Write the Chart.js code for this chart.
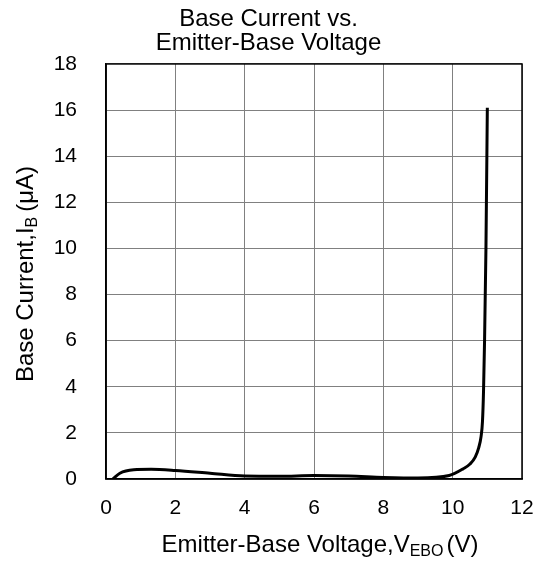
<!DOCTYPE html>
<html>
<head>
<meta charset="utf-8">
<script src="https://cdn.jsdelivr.net/npm/chart.js@4"></script>
<style>
  html, body { margin: 0; padding: 0; background: #fff; }
  #wrap { width: 537px; height: 563px; position: relative; }
</style>
</head>
<body>
<div id="wrap"><canvas id="c" width="537" height="563"></canvas></div>
<script>
const chartTitle = ["Base Current vs.", "Emitter-Base Voltage"];
const xTitleMain = "Emitter-Base Voltage,V";
const xTitleSub = "EBO";
const xTitleTail = "(V)";
const yTitleMain = "Base Current,I";
const yTitleSub = "B";
const yTitleTail = "(\u03BCA)";

const voltage = [0.2, 0.4, 0.8, 1.3, 2.0, 3.0, 4.0, 5.0, 6.0, 7.0, 8.0, 9.0, 9.9, 10.3, 10.5, 10.65, 10.75, 10.82, 10.86, 10.89, 10.92, 10.96, 11.0];
const current = [0.0, 0.25, 0.4, 0.42, 0.37, 0.25, 0.13, 0.12, 0.15, 0.13, 0.07, 0.04, 0.15, 0.44, 0.65, 0.95, 1.35, 1.85, 2.5, 3.8, 6.0, 10.0, 16.1];

const xMin = 0, xMax = 12, xStep = 2;
const yMin = 0, yMax = 18, yStep = 2;

const FONT = "'Liberation Sans', Arial, sans-serif";
const TITLE_SIZE = 24;
const SUB_SIZE = 16;

const axisTitlePlugin = {
  id: 'axisTitles',
  afterDraw(chart) {
    const ctx = chart.ctx;
    ctx.save();
    ctx.fillStyle = '#000';
    ctx.textBaseline = 'alphabetic';
    function drawParts(parts, cx, cy) {
      let total = 0;
      parts.forEach(p => { ctx.font = p[1] + 'px ' + FONT; total += ctx.measureText(p[0]).width + p[3]; });
      let x = cx - total / 2;
      parts.forEach(p => {
        ctx.font = p[1] + 'px ' + FONT;
        ctx.textAlign = 'left';
        x += p[3];
        ctx.fillText(p[0], x, cy + p[2]);
        x += ctx.measureText(p[0]).width;
      });
    }
    drawParts([[xTitleMain, TITLE_SIZE, 0, 0], [xTitleSub, SUB_SIZE, 4, 0], [xTitleTail, TITLE_SIZE, 0, 3]], 320, 552);
    ctx.translate(33, 274);
    ctx.rotate(-Math.PI / 2);
    drawParts([[yTitleMain, TITLE_SIZE, 0, 0], [yTitleSub, SUB_SIZE, 4, 0], [yTitleTail, TITLE_SIZE, 0, 5]], 0, 0);
    ctx.restore();
  }
};

new Chart(document.getElementById('c'), {
  type: 'scatter',
  data: {
    datasets: [{
      data: voltage.map((v, i) => ({ x: v, y: current[i] })),
      showLine: true,
      borderColor: '#000',
      borderWidth: 3,
      pointRadius: 0,
      cubicInterpolationMode: 'monotone',
      fill: false
    }]
  },
  options: {
    responsive: false,
    animation: false,
    devicePixelRatio: 1,
    layout: { padding: { left: 0, right: 0, top: 0, bottom: 0 } },
    plugins: {
      legend: { display: false },
      tooltip: { enabled: false },
      title: {
        display: true,
        text: chartTitle,
        color: '#000',
        font: { family: FONT, size: 24, weight: 'normal', lineHeight: 0.97 },
        padding: { top: 8, bottom: 9.4 }
      }
    },
    scales: {
      x: {
        type: 'linear',
        min: xMin, max: xMax,
        ticks: { stepSize: xStep, color: '#000', font: { family: FONT, size: 21 }, padding: 17, maxRotation: 0 },
        grid: { color: '#808080', lineWidth: 1, drawTicks: false },
        border: { color: '#000', width: 1.5 },
        afterFit(s) { s.height = 84; s.paddingRight = 15; s.paddingLeft = 15; }
      },
      y: {
        type: 'linear',
        min: yMin, max: yMax,
        ticks: { stepSize: yStep, color: '#000', font: { family: FONT, size: 21 }, padding: 29 },
        grid: { color: '#808080', lineWidth: 1, drawTicks: false },
        border: { color: '#000', width: 1.5 },
        afterFit(s) { s.width = 106; }
      }
    }
  },
  plugins: [axisTitlePlugin, {
    id: 'frame',
    afterDraw(chart) {
      const a = chart.chartArea, ctx = chart.ctx;
      ctx.save();
      ctx.strokeStyle = '#000';
      ctx.lineWidth = 1.5;
      ctx.strokeRect(a.left, a.top, a.right - a.left, a.bottom - a.top);
      ctx.restore();
    }
  }]
});
</script>
</body>
</html>
